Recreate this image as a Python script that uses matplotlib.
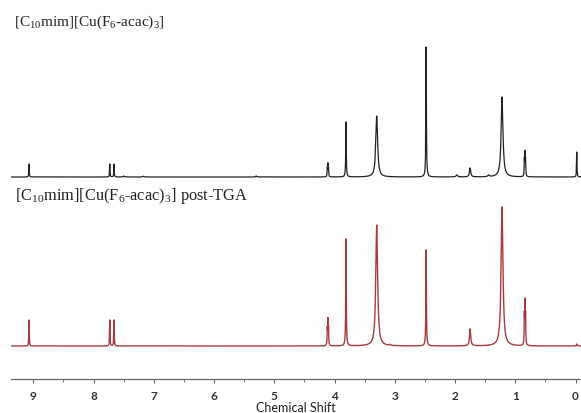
import numpy as np
import matplotlib.pyplot as plt
from matplotlib.ticker import MultipleLocator

# peak lists: shift (ppm), height (px above baseline), half width (ppm)
top_shift = [9.07, 7.73, 7.66, 7.50, 7.17, 5.30, 4.12, 4.11, 4.10, 3.81, 3.30, 2.48,
             1.97, 1.75, 1.44, 1.22, 0.85, 0.84, 0.83, -0.02]
top_height = [13, 13, 13, 1, 0.8, 1, 8, 12, 8, 55, 61, 130,
              2, 9, 1.5, 80, 16, 22, 16, 25]
top_width = [0.004, 0.004, 0.004, 0.01, 0.01, 0.01, 0.004, 0.004, 0.004, 0.005, 0.018, 0.005,
             0.015, 0.012, 0.015, 0.018, 0.004, 0.004, 0.004, 0.004]

bot_shift = [9.07, 7.73, 7.66, 4.12, 4.11, 4.10, 3.81, 3.30, 3.08, 2.48,
             1.75, 1.22, 0.85, 0.84, 0.83, -0.02]
bot_height = [26, 26, 26, 16, 24, 16, 107, 121, 1, 96,
              17, 139, 28, 40, 28, 2]
bot_width = [0.004, 0.004, 0.004, 0.004, 0.004, 0.004, 0.005, 0.018, 0.01, 0.005,
             0.012, 0.018, 0.004, 0.004, 0.004, 0.006]

top_label = r'[C$_{10}$mim][Cu(F$_6$-acac)$_3$]'
bot_label = r'[C$_{10}$mim][Cu(F$_6$-acac)$_3$] post-TGA'


def spectrum(ppm, shifts, heights, widths):
    y = np.zeros_like(ppm)
    for s, h, w in zip(shifts, heights, widths):
        y += h * w**2 / ((ppm - s)**2 + w**2)
    return y


plt.rcParams['mathtext.default'] = 'regular'

ppm = np.linspace(-0.1, 9.4, 40000)
fig = plt.figure(figsize=(5.81, 4.14), dpi=100)
ax = fig.add_axes([11/581, 34/414, 570/581, 380/414])

ax.plot(ppm, 202 + spectrum(ppm, top_shift, top_height, top_width), color='#222222', lw=0.9)
ax.plot(ppm, 33 + spectrum(ppm, bot_shift, bot_height, bot_width), color='#a83a3d', lw=1.0)

ax.set_xlim(9.37, -0.09)
ax.set_ylim(0, 380)
for side in ['top', 'left', 'right']:
    ax.spines[side].set_visible(False)
ax.spines['bottom'].set_color('#666666')
ax.spines['bottom'].set_linewidth(0.9)
ax.set_yticks([])
ax.xaxis.set_major_locator(MultipleLocator(1))
ax.xaxis.set_minor_locator(MultipleLocator(0.5))
ax.tick_params(axis='x', which='major', length=3, color='#666666', pad=5, labelsize=8.5)
ax.tick_params(axis='x', which='minor', length=2, color='#666666')
for lab in ax.get_xticklabels():
    lab.set_fontfamily('Lato')
    lab.set_fontweight('bold')
    lab.set_color('#333333')
ax.set_xlabel('Chemical Shift', fontfamily='Lato', fontsize=9, labelpad=0, color='#222222')

fig.text(14/581, 1 - 22/414, top_label, family='Liberation Serif', fontsize=11, va='center', color='#222222')
fig.text(15/581, 1 - 196/414, bot_label, family='Liberation Serif', fontsize=11.8, va='center', color='#222222')

fig.savefig('out.png', dpi=100)
